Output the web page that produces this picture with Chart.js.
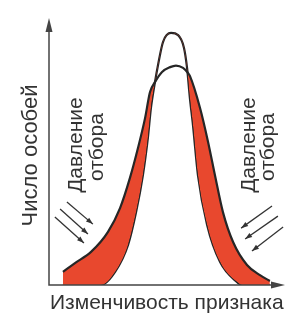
<!DOCTYPE html>
<html lang="ru">
<head>
<meta charset="utf-8">
<title>Давление отбора</title>
<script src="https://cdn.jsdelivr.net/npm/chart.js@4.4.1/dist/chart.umd.min.js"></script>
<style>
    html, body { margin: 0; padding: 0; background: #fff; }
    #wrap { width: 285px; height: 313px; }
</style>
</head>
<body>
<div id="wrap"><canvas id="selectionChart" width="285" height="313"></canvas></div>
<script>
// Values (trait value 0-100, number of individuals 0-100)
// Wide curve - the population before selection
const wideX = [5.9, 11.0, 17.8, 25.0, 30.1, 34.3, 37.7, 40.7, 42.8, 44.9, 47.9, 51.3, 53.8, 56.8, 58.9, 59.7, 64.0, 67.4, 70.3, 73.7, 78.0, 83.9, 89.4, 93.6];
const wideY = [4.9, 8.2, 12.4, 19.9, 28.8, 40.1, 51.3, 62.5, 72.3, 76.0, 79.8, 81.6, 82.2, 81.3, 79.4, 78.3, 66.3, 53.6, 41.2, 27.3, 16.1, 7.5, 3.7, 1.5];

// Narrow curve - the population after stabilizing selection
const narrowX = [5.9, 22.0, 28.0, 33.5, 36.9, 39.8, 41.9, 43.2, 44.9, 46.2, 48.3, 51.7, 54.7, 57.2, 58.5, 59.7, 61.0, 63.1, 67.0, 72.5, 79.7, 81.8, 93.6];
const narrowY = [0, 0, 4.9, 15.0, 27.3, 41.2, 55.1, 66.3, 76.0, 82.4, 91.0, 94.4, 93.6, 88.8, 81.3, 70.0, 59.9, 41.2, 22.5, 8.6, 1.1, 0, 0];

// Texts
const yTitle = 'Число особей';
const xTitle = 'Изменчивость признака';
const pressureText = ['Давление', 'отбора'];

const INK = '#333333';
const RED = '#e8482e';
const FONT = '"Liberation Sans", Arial, sans-serif';

// Small filled arrow head at (x, y) pointing along (dx, dy)
function drawHead(ctx, x, y, dx, dy, len, half) {
    const n = Math.hypot(dx, dy);
    const ux = dx / n, uy = dy / n;
    ctx.beginPath();
    ctx.moveTo(x, y);
    ctx.lineTo(x - ux * len - uy * half, y - uy * len + ux * half);
    ctx.lineTo(x - ux * len + uy * half, y - uy * len - ux * half);
    ctx.closePath();
    ctx.fill();
}

// Text rotated to read bottom-to-top, baseline at bx
function drawUpText(ctx, text, bx, cy) {
    ctx.save();
    ctx.translate(bx, cy);
    ctx.rotate(-Math.PI / 2);
    ctx.textAlign = 'center';
    ctx.textBaseline = 'alphabetic';
    ctx.fillText(text, 0, 0);
    ctx.restore();
}

// Axes with arrows, axis titles and the "selection pressure" notes
const decorPlugin = {
    id: 'decor',
    afterDatasetsDraw(chart) {
        const { ctx, chartArea: a, scales: { x, y } } = chart;
        ctx.save();
        ctx.strokeStyle = '#444';
        ctx.fillStyle = '#444';
        ctx.lineWidth = 1.5;
        ctx.beginPath();
        ctx.moveTo(a.left, a.top + 8);
        ctx.lineTo(a.left, a.bottom);
        ctx.lineTo(a.right - 8, a.bottom);
        ctx.stroke();
        drawHead(ctx, a.left, a.top, 0, -1, 14, 3.5);
        drawHead(ctx, a.right, a.bottom, 1, 0, 14, 3.5);

        // pressure arrows, in data units [x0, y0, x1, y1]
        const arrows = [
            [7.6, 31.1, 18.6, 22.8], [4.7, 28.5, 16.5, 19.1], [2.5, 25.5, 14.8, 15.7],
            [94.5, 29.6, 81.4, 21.3], [97.0, 25.8, 83.1, 17.2], [99.2, 21.7, 86.0, 12.7]
        ];
        ctx.strokeStyle = INK;
        ctx.fillStyle = INK;
        ctx.lineWidth = 1.3;
        arrows.forEach(([x0, y0, x1, y1]) => {
            const px0 = x.getPixelForValue(x0), py0 = y.getPixelForValue(y0);
            const px1 = x.getPixelForValue(x1), py1 = y.getPixelForValue(y1);
            ctx.beginPath();
            ctx.moveTo(px0, py0);
            ctx.lineTo(px1, py1);
            ctx.stroke();
            drawHead(ctx, px1, py1, px1 - px0, py1 - py0, 7, 2.5);
        });

        ctx.fillStyle = INK;
        ctx.font = '22px ' + FONT;
        drawUpText(ctx, yTitle, 37, (a.top + a.bottom) / 2 + 4);
        ctx.font = '21px ' + FONT;
        ctx.textAlign = 'left';
        ctx.textBaseline = 'alphabetic';
        ctx.fillText(xTitle, a.left + 1, 309);

        const midY = y.getPixelForValue(52.4);
        drawUpText(ctx, pressureText[0], x.getPixelForValue(14.0), midY);
        drawUpText(ctx, pressureText[1], x.getPixelForValue(22.8), midY + 2);
        drawUpText(ctx, pressureText[0], x.getPixelForValue(87.3), midY);
        drawUpText(ctx, pressureText[1], x.getPixelForValue(95.3), midY + 2);
        ctx.restore();
    }
};

const ctx = document.getElementById('selectionChart');
new Chart(ctx, {
    type: 'line',
    data: {
        datasets: [{
            data: wideX.map((v, i) => ({ x: v, y: wideY[i] })),
            borderColor: '#262626',
            borderWidth: 2.2,
            cubicInterpolationMode: 'monotone',
            pointRadius: 0,
            fill: { target: 1, above: RED, below: 'rgba(0,0,0,0)' }
        }, {
            data: narrowX.map((v, i) => ({ x: v, y: narrowY[i] })),
            borderColor: '#262626',
            borderWidth: 2.2,
            cubicInterpolationMode: 'monotone',
            pointRadius: 0,
            fill: false
        }]
    },
    options: {
        responsive: false,
        animation: false,
        devicePixelRatio: 1,
        layout: { padding: { left: 49, right: 0, top: 18, bottom: 28 } },
        scales: {
            x: { type: 'linear', min: 0, max: 100, display: false },
            y: { min: 0, max: 100, display: false }
        },
        plugins: {
            legend: { display: false },
            tooltip: { enabled: false }
        }
    },
    plugins: [decorPlugin]
});
</script>
</body>
</html>
